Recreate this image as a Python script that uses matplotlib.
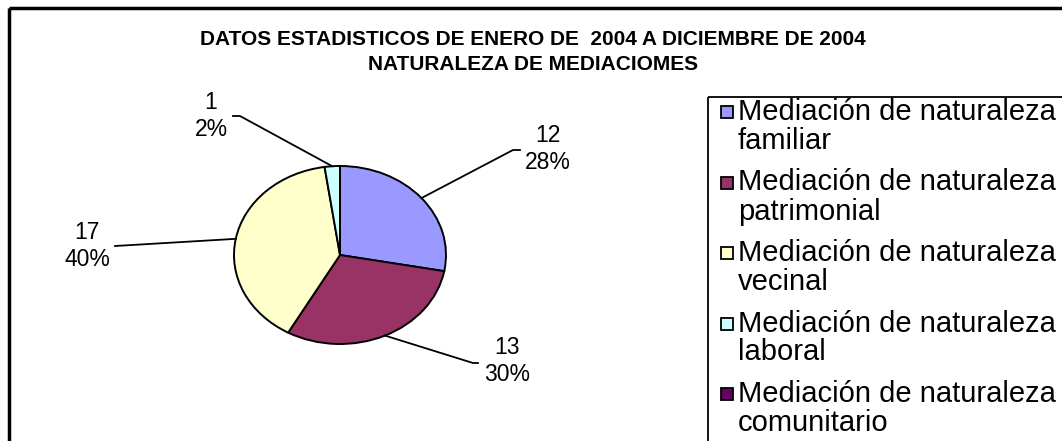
import matplotlib
matplotlib.use("Agg")
import matplotlib.pyplot as plt
from matplotlib.patches import Rectangle
import numpy as np

plt.rcParams['font.family'] = ['Liberation Sans', 'DejaVu Sans']

# datos
categorias = ['Mediación de naturaleza\nfamiliar',
              'Mediación de naturaleza\npatrimonial',
              'Mediación de naturaleza\nvecinal',
              'Mediación de naturaleza\nlaboral',
              'Mediación de naturaleza\ncomunitario']
valores = [12, 13, 17, 1, 0]
colores = ['#9999FF', '#993366', '#FFFFCC', '#CCFFFF', '#660066']
titulo = 'DATOS ESTADISTICOS DE ENERO DE  2004 A DICIEMBRE DE 2004\nNATURALEZA DE MEDIACIOMES'

# layout (pixeles)
W, H = 1062, 441
cx, cy, rx, ry = 340, 255, 106, 89
pos_etiquetas = [(548, 149), (507, 361), (87, 246), (211, 116)]
codos = [(513, 150), (473, 363), (115, 246), (240, 116)]
colas = [7, 5, 0, -7]

fig = plt.figure(figsize=(W / 100, H / 100), dpi=100)

# torta (eliptica como en el original)
axp = fig.add_axes([(cx - rx) / W, (H - cy - ry) / H, 2 * rx / W, 2 * ry / H])
wedges, _ = axp.pie(valores, colors=colores, startangle=90, counterclock=False,
                    wedgeprops=dict(edgecolor='black', linewidth=1.4))
axp.set_aspect('auto')
axp.set_xlim(-1, 1)
axp.set_ylim(-1, 1)
axp.axis('off')

# capa superior en pixeles
ax = fig.add_axes([0, 0, 1, 1])
ax.set_xlim(0, W)
ax.set_ylim(H, 0)
ax.axis('off')

ax.add_patch(Rectangle((9, 8), W + 20, H + 20, fill=False, edgecolor='black', linewidth=2.5))
ax.text(W / 2 + 2, 52, titulo, ha='center', va='center', fontsize=15, fontweight='bold',
        linespacing=1.35)

total = float(sum(valores))
for i, w in enumerate(wedges):
    if valores[i] == 0:
        continue
    t = np.radians((w.theta1 + w.theta2) / 2)
    px, py = axp.transData.transform((np.cos(t), np.sin(t)))
    ex, ey = codos[i]
    ax.plot([px, ex, ex + colas[i]], [H - py, ey, ey], color='black', linewidth=1.3)
    pct = int(round(valores[i] / total * 100))
    lx, ly = pos_etiquetas[i]
    ax.text(lx, ly, '%d\n%d%%' % (valores[i], pct), ha='center', va='center',
            fontsize=16.5, linespacing=1.2)

# leyenda
ax.add_patch(Rectangle((708, 97), W, H, fill=False, edgecolor='black', linewidth=1.3))
for i, cat in enumerate(categorias):
    y0 = 112 + i * 70.5
    ax.add_patch(Rectangle((721, y0 - 6), 12, 12, facecolor=colores[i],
                           edgecolor='black', linewidth=1.3))
    l1, l2 = cat.split('\n')
    ax.text(738, y0, l1, ha='left', va='center', fontsize=21)
    ax.text(738, y0 + 29, l2, ha='left', va='center', fontsize=21)

fig.savefig('out.png', dpi=100, facecolor='white')
